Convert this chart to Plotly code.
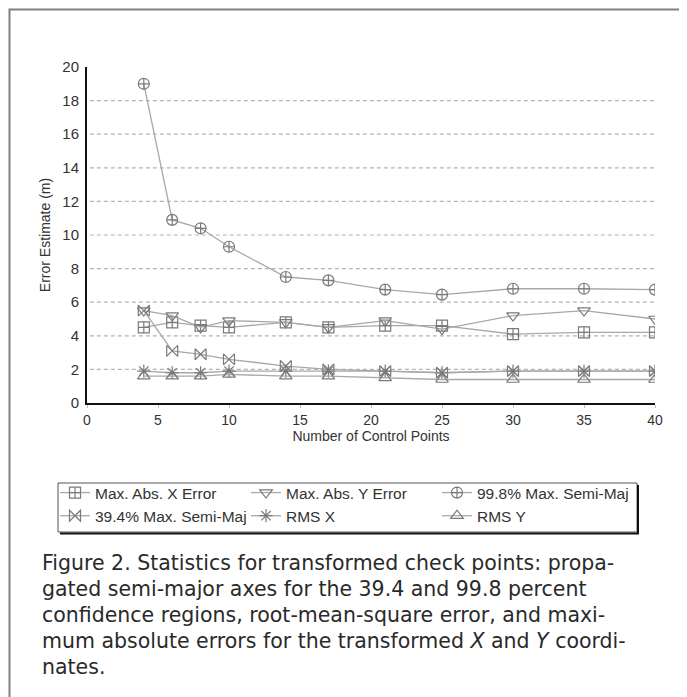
import plotly.graph_objects as go

# ---- data ----
control_points = [4, 6, 8, 10, 14, 17, 21, 25, 30, 35, 40]
max_abs_x = [4.5, 4.8, 4.6, 4.5, 4.8, 4.5, 4.6, 4.6, 4.1, 4.2, 4.2]
max_abs_y = [5.5, 5.2, 4.5, 4.9, 4.8, 4.5, 4.9, 4.4, 5.2, 5.5, 5.0]
semi_998 = [19.0, 10.9, 10.4, 9.3, 7.5, 7.3, 6.75, 6.45, 6.8, 6.8, 6.75]
semi_394 = [5.5, 3.1, 2.9, 2.6, 2.2, 2.0, 1.9, 1.8, 1.9, 1.9, 1.9]
rms_x = [1.9, 1.8, 1.8, 1.9, 1.9, 1.9, 1.9, 1.8, 1.9, 1.9, 1.9]
rms_y = [1.6, 1.6, 1.6, 1.7, 1.6, 1.6, 1.5, 1.4, 1.4, 1.4, 1.4]

series_names = ["Max. Abs. X Error", "Max. Abs. Y Error", "99.8% Max. Semi-Maj",
                "39.4% Max. Semi-Maj", "RMS X", "RMS Y"]
series_values = [max_abs_x, max_abs_y, semi_998, semi_394, rms_x, rms_y]
series_symbols = ["square-cross-open", "triangle-down-open", "circle-cross-open",
                  "bowtie-open", "asterisk-open", "triangle-up-open"]

x_ticks = [0, 5, 10, 15, 20, 25, 30, 35, 40]
y_ticks = [0, 2, 4, 6, 8, 10, 12, 14, 16, 18, 20]
grid_levels = [2, 4, 6, 8, 10, 12, 14, 16, 18]

caption_lines = [
    "Figure 2. Statistics for transformed check points: propa-",
    "gated semi-major axes for the 39.4 and 99.8 percent",
    "confidence regions, root-mean-square error, and maxi-",
    "mum absolute errors for the transformed <i>X</i> and <i>Y</i> coordi-",
    "nates.",
]

# page body margin offset (8 px) is accounted for in the figure geometry
OFF = 8
W, H = 687, 697
PW, PH = 568, 336
ML, MT = 87 - OFF, 67 - OFF
MR, MB = W - ML - PW, H - MT - PH


def px_x(p):  # reference page pixel -> paper x
    return (p - OFF - ML) / PW


def px_y(p):  # reference page pixel -> paper y
    return (MT + PH - (p - OFF)) / PH


fig = go.Figure()

for name, vals, sym in zip(series_names, series_values, series_symbols):
    fig.add_trace(go.Scatter(
        x=control_points, y=vals, name=name, mode="lines+markers",
        line=dict(color="#a8a8a8", width=1.3),
        marker=dict(symbol=sym, size=11, color="#7a7a7a",
                    line=dict(color="#7a7a7a", width=1.2)),
    ))

shapes = []
for g in grid_levels:
    shapes.append(dict(type="line", xref="paper", yref="y", x0=0.005, x1=1.0,
                       y0=g, y1=g, line=dict(color="#b4b4b4", width=1.2, dash="4px,3px"),
                       layer="below"))

# outer frame
shapes.append(dict(type="rect", xref="paper", yref="paper",
                   x0=px_x(9.5), x1=px_x(684), y0=px_y(712), y1=px_y(9.5),
                   line=dict(color="#808080", width=2)))
# legend box + shadow
shapes.append(dict(type="rect", xref="paper", yref="paper",
                   x0=px_x(58), x1=px_x(637), y0=px_y(532), y1=px_y(483),
                   line=dict(color="#555", width=1)))
shapes.append(dict(type="line", xref="paper", yref="paper",
                   x0=px_x(638), x1=px_x(638), y0=px_y(485), y1=px_y(534),
                   line=dict(color="#111", width=2)))
shapes.append(dict(type="line", xref="paper", yref="paper",
                   x0=px_x(60), x1=px_x(639), y0=px_y(533.5), y1=px_y(533.5),
                   line=dict(color="#111", width=2)))

annotations = []
for i, line in enumerate(caption_lines):
    annotations.append(dict(
        text=line, xref="paper", yref="paper", x=px_x(40), y=px_y(563 + 26 * i),
        xanchor="left", yanchor="middle", showarrow=False, align="left",
        font=dict(family="DejaVu Sans", size=20.5, color="#2a2a2a"),
    ))

fig.update_layout(
    width=W, height=H,
    margin=dict(l=ML, r=MR, t=MT, b=MB),
    paper_bgcolor="white", plot_bgcolor="white",
    font=dict(family="Liberation Sans, Arial", color="#333"),
    shapes=shapes, annotations=annotations,
    legend=dict(
        orientation="h", x=px_x(55), y=px_y(476), xanchor="left", yanchor="top",
        borderwidth=0, bgcolor="rgba(0,0,0,0)",
        font=dict(size=15.5, color="#333"), entrywidth=146, entrywidthmode="pixels",
        tracegroupgap=0,
    ),
    xaxis=dict(
        range=[0, 40], tickvals=x_ticks, showgrid=False, zeroline=False,
        showline=True, linecolor="#111", linewidth=2,
        ticks="outside", ticklen=3, tickcolor="#bbb",
        tickfont=dict(size=14, color="#333"),
        title=dict(text="Number of Control Points", font=dict(size=14, color="#333"), standoff=3),
        automargin=False,
    ),
    yaxis=dict(
        range=[0, 20], tickvals=y_ticks, showgrid=False, zeroline=False,
        showline=True, linecolor="#111", linewidth=2,
        ticks="outside", ticklen=3, tickcolor="white",
        tickfont=dict(size=15, color="#333"),
        title=dict(text="Error Estimate (m)", font=dict(size=14, color="#333"), standoff=8),
        automargin=False,
    ),
)

fig.write_html("out.html")
